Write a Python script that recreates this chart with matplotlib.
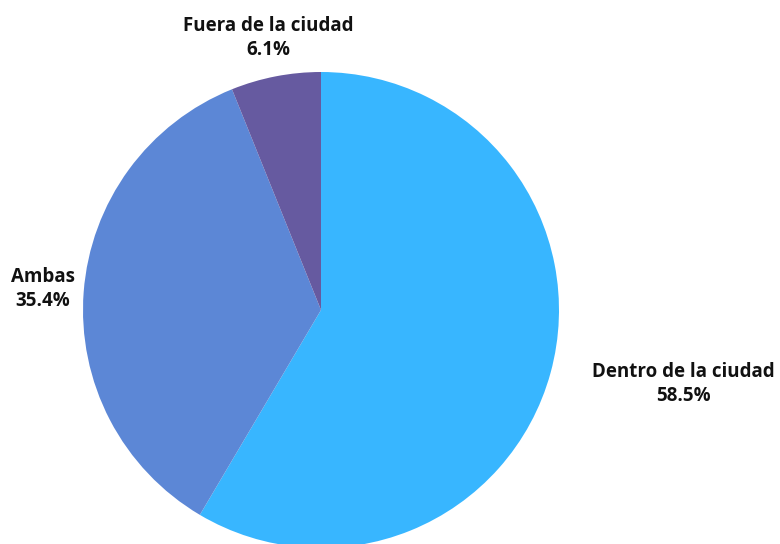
import matplotlib.pyplot as plt
import numpy as np

# datos del grafico
categorias = ['Dentro de la ciudad', 'Ambas', 'Fuera de la ciudad']
porcentajes = [58.5, 35.4, 6.1]
colores = ['#38b6ff', '#5c87d6', '#665aa0']

plt.rcParams['font.family'] = ['Open Sans', 'DejaVu Sans']

W, H = 780, 544
fig = plt.figure(figsize=(W / 100, H / 100), dpi=100)
ax = fig.add_axes([0, 0, 1, 1])

cx, cy, r = 321, H - 310, 238
ax.pie(porcentajes, colors=colores, startangle=90, counterclock=False,
       center=(cx, cy), radius=r, frame=True,
       wedgeprops=dict(linewidth=0))
ax.set_xlim(0, W)
ax.set_ylim(0, H)
ax.set_aspect('equal')
ax.axis('off')

# posicion de las etiquetas (px desde arriba-izquierda)
pos_etiquetas = [(683, 384), (43, 289), (268, 38)]
for nombre, valor, (x, y) in zip(categorias, porcentajes, pos_etiquetas):
    ax.text(x, H - y, f'{nombre}\n{valor}%', ha='center', va='center',
            fontsize=13.5, fontweight='bold', color='#111111', linespacing=1.3)

fig.savefig('out.png', dpi=100)
